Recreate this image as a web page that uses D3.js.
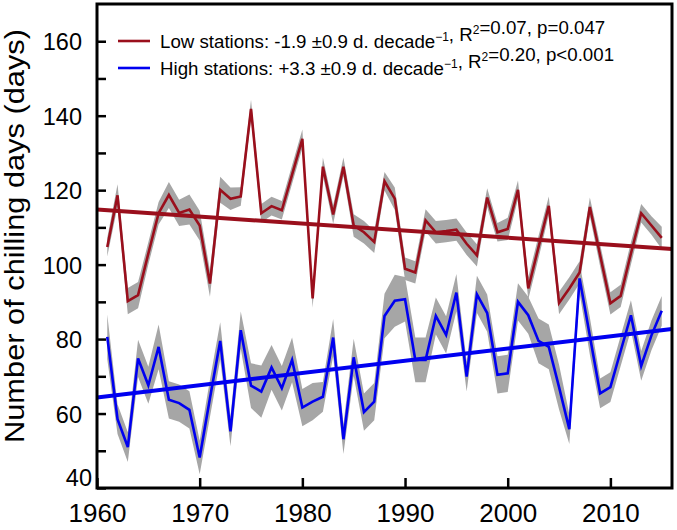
<!DOCTYPE html>
<html><head><meta charset="utf-8">
<script src="https://cdn.jsdelivr.net/npm/d3@7"></script>
<style>
body{margin:0;background:#fff;}
svg{display:block;font-family:"Liberation Sans",Arial,sans-serif;}
</style></head>
<body>
<svg id="c" width="677" height="530"></svg>
<script>
const years = [1961,1962,1963,1964,1965,1966,1967,1968,1969,1970,
1971,1972,1973,1974,1975,1976,1977,1978,1979,1980,
1981,1982,1983,1984,1985,1986,1987,1988,1989,1990,
1991,1992,1993,1994,1995,1996,1997,1998,1999,2000,
2001,2002,2003,2004,2005,2006,2007,2008,2009,2010,
2011,2012,2013,2014,2015];
const lowValues = [104.7,118.6,90.2,91.8,103.0,113.8,118.7,113.9,114.8,110.5,
94.9,120.1,117.7,118.3,141.8,113.8,115.7,114.6,124.2,133.8,
90.9,126.3,113.5,126.3,110.5,108.7,106.1,122.4,117.7,98.9,
97.9,111.9,108.7,109.0,109.4,105.6,102.5,118.0,108.7,109.6,
120.1,93.6,104.7,115.8,89.7,93.6,97.9,115.5,102.5,89.6,
91.6,103.0,113.8,110.5,107.2];
const lowErr = [2.5,3,3.5,3.5,3,3,3.5,3.5,4,4,
3.5,3.5,3,2.5,2.5,2.5,2.5,2.5,2.5,2.5,
2.5,2.5,2.5,2.5,3,3,3,2.5,3,3,
3,3,3,3,3,3,3,2.5,2.5,3,
2.5,3,3,2.5,3,3,3,2.5,3,3,
3,3,2.5,2.5,3];
const highValues = [80.6,58.5,51.0,74.8,67.6,77.9,63.7,62.8,61.0,48.2,
64.1,79.5,55.2,82.4,67.5,65.9,72.4,66.8,74.4,61.6,
63.2,64.5,80.4,53.1,75.1,60.4,63.2,86.2,90.3,90.7,
74.4,74.4,86.2,81.1,92.5,69.9,92.0,87.0,70.4,70.8,
90.0,86.4,79.5,77.9,67.1,55.8,96.3,80.8,65.4,67.1,
76.8,86.4,72.8,81.0,87.6];
const highErr = [6,4,4,5,5,6,5,5,5,4.5,
5,5,4,5,6,7,6,6,6,5,
5,4,5,4,5,5,5,6,7,6,
6,6,5,5,5,4,5,5,5,5,
5,5,6,6,6,4,4,5,4,4,
4,4,4,4,4];
const trendYears = [1960, 2016];
const lowTrend = [114.8, 104.2];
const highTrend = [64.3, 82.7];
const xTicks = [1960,1970,1980,1990,2000,2010];
const yTicks = [40,60,80,100,120,140,160];
const yMinorTicks = [50,70,90,110,130,150];

const svg = d3.select("#c");
const L = 97, R = 672, T = 4, B = 488;
const x = d3.scaleLinear().domain([1960, 2016]).range([L, R]);
const y = d3.scaleLinear().domain([40, 170]).range([B, T]);

const red = "#9a0f1c", blue = "#0000f0", gray = "#a6a6a6";

function band(vals, errs){
  const d = years.map((yr,i)=>({x:yr, v:vals[i], e:errs[i]}));
  return d3.area().x(p=>x(p.x)).y0(p=>y(p.v-p.e)).y1(p=>y(p.v+p.e))(d);
}
function line(vals){
  return d3.line().x((d,i)=>x(years[i])).y(d=>y(d))(vals);
}
svg.append("path").attr("d", band(lowValues, lowErr)).attr("fill", gray);
svg.append("path").attr("d", band(highValues, highErr)).attr("fill", gray);
svg.append("path").attr("d", line(lowValues)).attr("fill","none").attr("stroke",red).attr("stroke-width",2.6).attr("stroke-linejoin","miter");
svg.append("path").attr("d", line(highValues)).attr("fill","none").attr("stroke",blue).attr("stroke-width",2.6).attr("stroke-linejoin","miter");

const tl = d3.line().x((d,i)=>x(trendYears[i])).y(d=>y(d));
svg.append("path").attr("d", tl(lowTrend)).attr("stroke",red).attr("stroke-width",4).attr("fill","none");
svg.append("path").attr("d", tl(highTrend)).attr("stroke",blue).attr("stroke-width",4).attr("fill","none");

// axes
const gy = svg.append("g").attr("transform",`translate(${L},0)`)
  .call(d3.axisLeft(y).tickValues(yTicks).tickSize(-9).tickPadding(15).tickFormat(d3.format("d")));
const gym = svg.append("g").attr("transform",`translate(${L},0)`)
  .call(d3.axisLeft(y).tickValues(yMinorTicks).tickSize(-9).tickFormat(""));
const gx = svg.append("g").attr("transform",`translate(0,${B})`)
  .call(d3.axisBottom(x).tickValues(xTicks).tickSize(-10).tickPadding(16).tickFormat(d3.format("d")));
[gy,gym,gx].forEach(g=>{
  g.select(".domain").remove();
  g.selectAll(".tick line").attr("stroke","#000").attr("stroke-width",2.5);
  g.selectAll("text").attr("fill","#000").style("font-family","'Liberation Sans',Arial,sans-serif");
});
gy.selectAll("text").attr("dy","0.36em").style("font-size","23.5px");
gx.selectAll("text").style("font-size","26px");
// the bottom y label sits up and to the right, at the corner
gy.selectAll(".tick").filter(d=>d===40).select("text").attr("x",-5).attr("dy","-0.1em");

svg.append("rect").attr("x",L).attr("y",T).attr("width",R-L).attr("height",B-T)
  .attr("fill","none").attr("stroke","#000").attr("stroke-width",3);

svg.append("text").attr("transform","translate(24,236) rotate(-90)")
  .attr("text-anchor","middle").style("font-size","28px")
  .attr("textLength",414).attr("lengthAdjust","spacingAndGlyphs")
  .text("Number of chilling days (days)");

// legend
const leg = [
  {c:red, y:41, parts:["Low stations: -1.9 \u00B10.9 d. decade",["\u22121"],", R",["2"],"=0.07, p=0.047"]},
  {c:blue, y:68, parts:["High stations: +3.3 \u00B10.9 d. decade",["\u22121"],", R",["2"],"=0.20, p<0.001"]}
];
leg.forEach(l=>{
  svg.append("line").attr("x1",118).attr("x2",150).attr("y1",l.y).attr("y2",l.y).attr("stroke",l.c).attr("stroke-width",2.6);
  const t = svg.append("text").attr("x",160).attr("y",l.y+7).style("font-size","18.7px");
  l.parts.forEach(p=>{
    if(Array.isArray(p)){
      t.append("tspan").attr("dy",-7).style("font-size","12px").text(p[0]);
      t.append("tspan").attr("dy",7).text("");
    } else t.append("tspan").text(p);
  });
});
</script>
</body></html>
